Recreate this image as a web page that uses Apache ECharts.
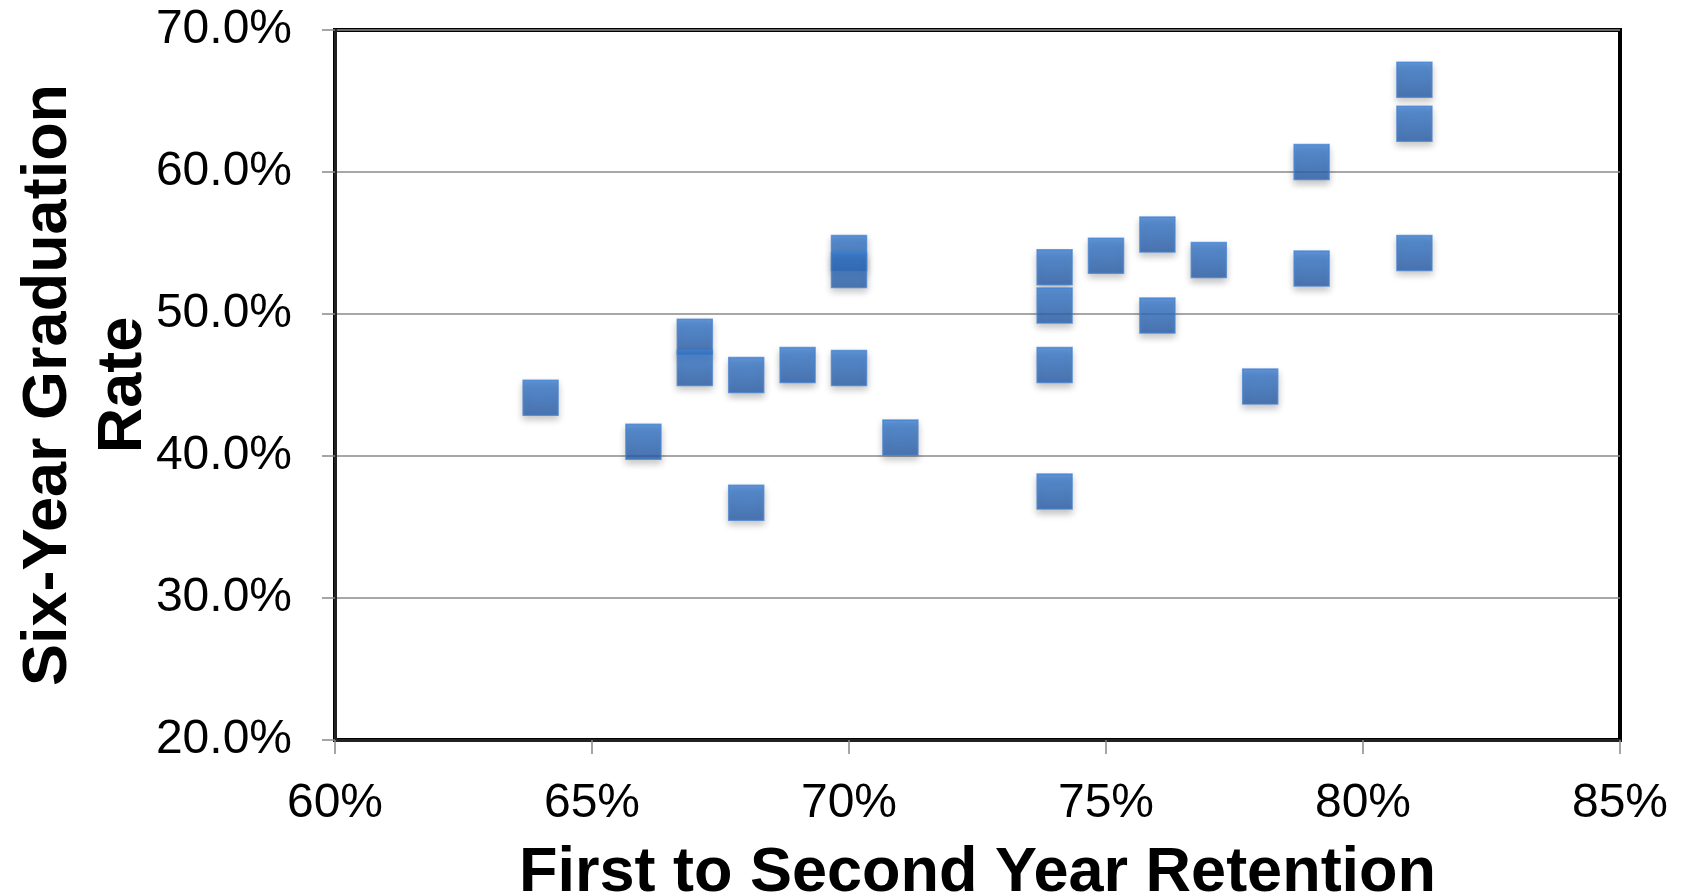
<!DOCTYPE html>
<html>
<head>
<meta charset="utf-8">
<title>Retention vs. Graduation Rate</title>
<script src="https://cdn.jsdelivr.net/npm/echarts@6/dist/echarts.min.js"></script>
<style>
  html, body { margin: 0; padding: 0; background: #fff; }
  #chart { width: 1684px; height: 896px; }
</style>
</head>
<body>
<div id="chart"></div>
<script>
// First-to-second-year retention (%) for each institution
const retention = [64, 66, 67, 67, 68, 68, 69, 70, 70, 70, 71, 74, 74, 74, 74, 75, 76, 76, 77, 78, 79, 79, 81, 81, 81];
// Six-year graduation rate (%) for the same institutions
const gradRate = [44.1, 41.0, 48.4, 46.2, 45.7, 36.7, 46.4, 54.3, 53.1, 46.2, 41.3, 53.3, 50.6, 46.4, 37.5, 54.1, 55.6, 49.9, 53.8, 44.9, 60.7, 53.2, 66.5, 63.4, 54.3];

const xTitle = 'First to Second Year Retention';
const yTitle = 'Six-Year Graduation\nRate';

const points = retention.map((x, i) => [x, gradRate[i]]);

const chart = echarts.init(document.getElementById('chart'), null, { renderer: 'canvas' });
const font = '"Liberation Sans", Arial, Helvetica, sans-serif';

chart.setOption({
  backgroundColor: '#ffffff',
  animation: false,
  grid: {
    left: 335, right: 64, top: 30, bottom: 156,
    outerBoundsMode: 'none',
    containLabel: false,
    show: true,
    borderColor: '#000000',
    borderWidth: 4,
    backgroundColor: 'transparent'
  },
  xAxis: {
    type: 'value',
    min: 60, max: 85, interval: 5,
    name: xTitle,
    nameLocation: 'middle',
    nameGap: 102,
    nameMoveOverlap: false,
    nameTextStyle: { fontFamily: font, fontSize: 63, fontWeight: 'bold', color: '#000' },
    axisLine: { show: true, lineStyle: { color: '#222', width: 3 } },
    axisTick: { show: true, length: 14, lineStyle: { color: '#888', width: 1.5 } },
    axisLabel: {
      margin: 40, fontFamily: font, fontSize: 48, color: '#000',
      formatter: v => v + '%'
    },
    splitLine: { show: false }
  },
  yAxis: {
    type: 'value',
    min: 20, max: 70, interval: 10,
    name: yTitle,
    nameLocation: 'middle',
    nameRotate: 90,
    nameGap: 174,
    nameMoveOverlap: false,
    nameTextStyle: { fontFamily: font, fontSize: 63, fontWeight: 'bold', color: '#000', lineHeight: 75, align: 'center' },
    axisLine: { show: true, lineStyle: { color: '#222', width: 3 } },
    axisTick: { show: true, length: 13, lineStyle: { color: '#888', width: 1.5 } },
    axisLabel: {
      margin: 43, fontFamily: font, fontSize: 48, color: '#000',
      formatter: v => v.toFixed(1) + '%'
    },
    splitLine: { show: true, lineStyle: { color: '#8a8a8a', width: 1.5 } }
  },
  series: [{
    type: 'scatter',
    data: points,
    symbol: 'rect',
    symbolSize: 35,
    itemStyle: {
      color: new echarts.graphic.LinearGradient(0, 0, 0, 1, [
        { offset: 0, color: '#3a7fd4' },
        { offset: 1, color: '#2a5ea8' }
      ]),
      borderColor: 'rgba(64,128,212,0.9)',
      borderWidth: 1.5,
      shadowColor: 'rgba(0,0,0,0.3)',
      shadowBlur: 7,
      shadowOffsetY: 4
    },
    emphasis: { disabled: true }
  }]
});
</script>
</body>
</html>
